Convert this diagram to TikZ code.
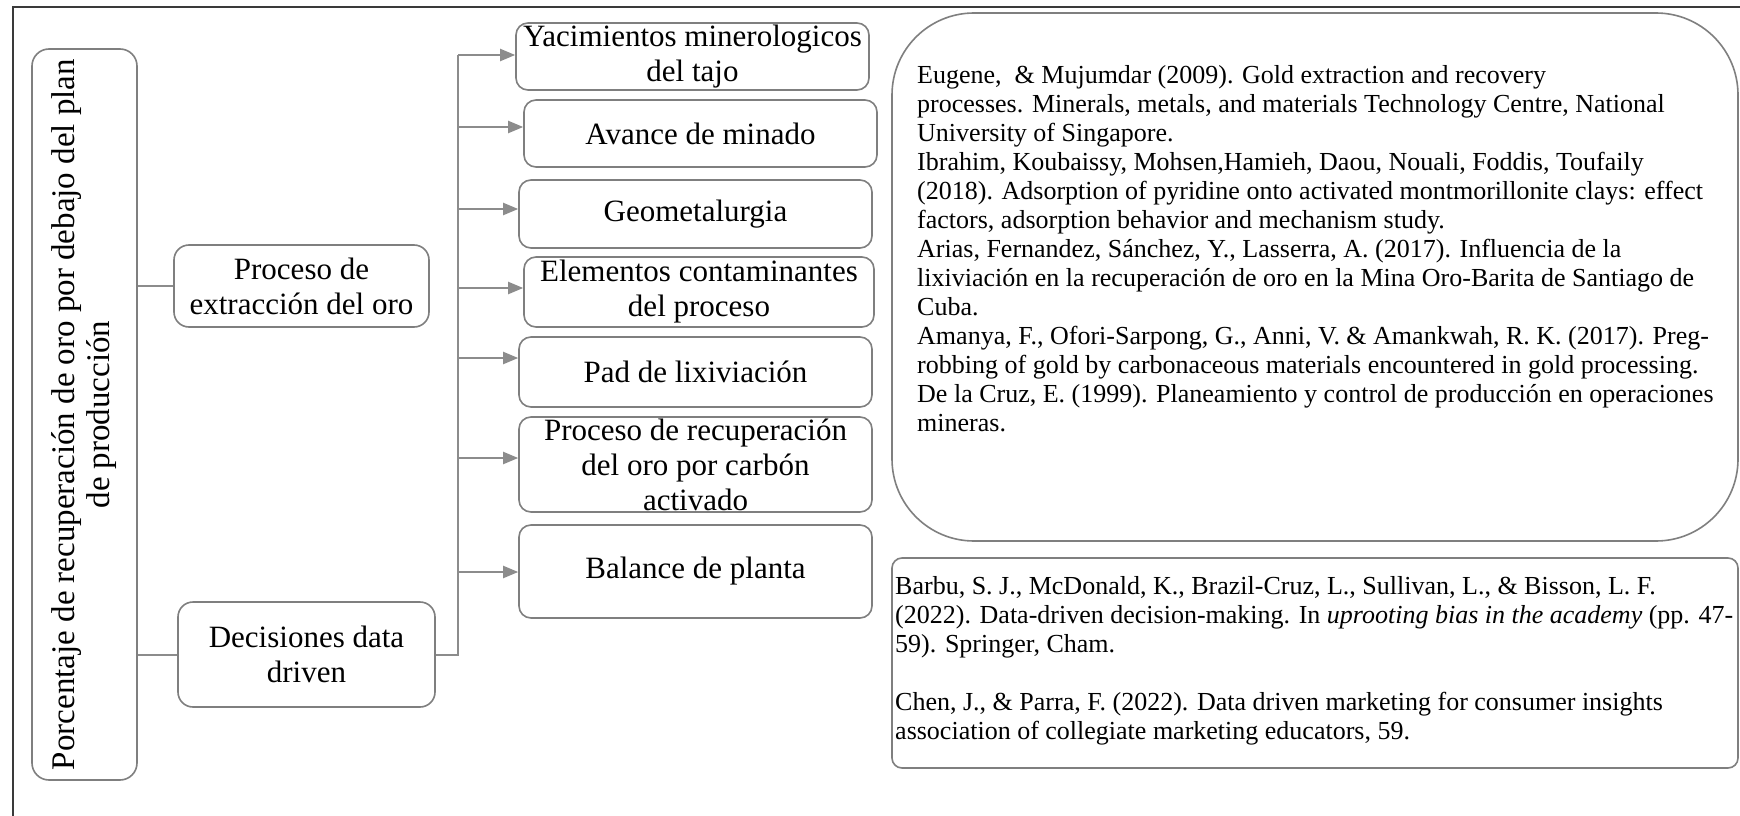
\documentclass[tikz,border=0pt]{standalone}
\usepackage{fontspec}
\setmainfont{Liberation Serif}
\usetikzlibrary{arrows.meta}
\definecolor{boxgray}{HTML}{7F7F7F}
\definecolor{linegray}{HTML}{8C8C8C}
\definecolor{framegray}{HTML}{3A3A3A}
\begin{document}
\begin{tikzpicture}[x=1pt,y=-1pt,
  box/.style={draw=boxgray, line width=1.6pt, rounded corners=12pt, inner sep=0pt},
  lbl/.style={align=center, inner sep=0pt, font=\fontsize{31}{35}\selectfont},
  conn/.style={draw=linegray, line width=2pt},
  arr/.style={conn, -{Triangle[length=15pt,width=12pt]}},
  reftext/.style={align=left, inner sep=0pt, anchor=north west, font=\fontsize{26}{29}\selectfont},
]
\useasboundingbox (0,0) rectangle (1740,816);
\fill[white] (0,0) rectangle (1740,816);
\draw[framegray, line width=2pt] (1740,7) -- (13,7) -- (13,816);

% main vertical box
\node[box, rounded corners=17pt, minimum width=105pt, minimum height=731pt] (main) at (84.5,414.5) {};
\node[lbl, rotate=90, font=\fontsize{33}{35}\selectfont] (maintxt) at (main.center) {Porcentaje de recuperación de oro por debajo del plan\\de producción};

% second level
\node[box, rounded corners=15pt, minimum width=255pt, minimum height=82pt] (pe) at (301.5,286) {};
\node[lbl] (petxt) at (pe.center) {Proceso de\\extracción del oro};
\node[box, rounded corners=15pt, minimum width=257pt, minimum height=105pt] (dd) at (306.5,654.5) {};
\node[lbl] (ddtxt) at (dd.center) {Decisiones data\\driven};

% third level
\node[box, minimum width=353pt, minimum height=67pt] (yac) at (692.5,56.5) {};
\node[lbl] (yactxt) at (yac.center) {Yacimientos minerologicos\\del tajo};
\node[box, minimum width=353pt, minimum height=67pt] (av) at (700.5,133.5) {};
\node[lbl] (avtxt) at (av.center) {Avance de minado};
\node[box, minimum width=353pt, minimum height=68pt] (geo) at (695.5,214) {};
\node[lbl] (geotxt) at (geo.center) {Geometalurgia};
\node[box, minimum width=350pt, minimum height=70pt] (el) at (699,292) {};
\node[lbl] (eltxt) at (el.center) {Elementos contaminantes\\del proceso};
\node[box, minimum width=353pt, minimum height=70pt] (pad) at (695.5,372) {};
\node[lbl] (padtxt) at (pad.center) {Pad de lixiviación};
\node[box, minimum width=353pt, minimum height=95pt] (prc) at (695.5,464.5) {};
\node[lbl] (prctxt) at (prc.center) {Proceso de recuperación\\del oro por carbón\\activado};
\node[box, minimum width=353pt, minimum height=93pt] (bal) at (695.5,571.5) {};
\node[lbl] (baltxt) at (bal.center) {Balance de planta};

% connectors
\draw[conn] (main.east |- pe.center) -- (pe.west);
\draw[conn] (main.east |- dd.center) -- (dd.west);
\coordinate (a1) at (458,55);
\coordinate (a2) at (458,127);
\coordinate (a3) at (458,209);
\coordinate (a4) at (458,288);
\coordinate (a5) at (458,358);
\coordinate (a6) at (458,458);
\coordinate (a7) at (458,572);
\draw[conn] (dd.east) -- (dd.east -| a1) -- (a1);
\draw[arr] (a1) -- (a1 -| yac.west);
\draw[arr] (a2) -- (a2 -| av.west);
\draw[arr] (a3) -- (a3 -| geo.west);
\draw[arr] (a4) -- (a4 -| el.west);
\draw[arr] (a5) -- (a5 -| pad.west);
\draw[arr] (a6) -- (a6 -| prc.west);
\draw[arr] (a7) -- (a7 -| bal.west);

% reference boxes
\node[box, rounded corners=82pt, minimum width=846pt, minimum height=528pt] (ref1) at (1315,277) {};
\node[reftext] (ref1txt) at (917,65) {Eugene,\ \ \& Mujumdar (2009). Gold extraction and recovery\\
processes. Minerals, metals, and materials Technology Centre, National\\
University of Singapore.\\
Ibrahim, Koubaissy, Mohsen,Hamieh, Daou, Nouali, Foddis, Toufaily\\
(2018). Adsorption of pyridine onto activated montmorillonite clays: effect\\
factors, adsorption behavior and mechanism study.\\
Arias, Fernandez, Sánchez, Y., Lasserra, A. (2017). Influencia de la\\
lixiviación en la recuperación de oro en la Mina Oro-Barita de Santiago de\\
Cuba.\\
Amanya, F., Ofori-Sarpong, G., Anni, V. \& Amankwah, R. K. (2017). Preg-\\
robbing of gold by carbonaceous materials encountered in gold processing.\\
De la Cruz, E. (1999). Planeamiento y control de producción en operaciones\\
mineras.};

\node[box, rounded corners=10pt, minimum width=846pt, minimum height=210pt] (ref2) at (1315,663) {};
\node[reftext] (ref2txt) at (895,576) {Barbu, S. J., McDonald, K., Brazil-Cruz, L., Sullivan, L., \& Bisson, L. F.\\
(2022). Data-driven decision-making. In {\itshape uprooting bias in the academy} (pp. 47-\\
59). Springer, Cham.\\[29pt]
Chen, J., \& Parra, F. (2022). Data driven marketing for consumer insights\\
association of collegiate marketing educators, 59.};
\end{tikzpicture}
\end{document}
